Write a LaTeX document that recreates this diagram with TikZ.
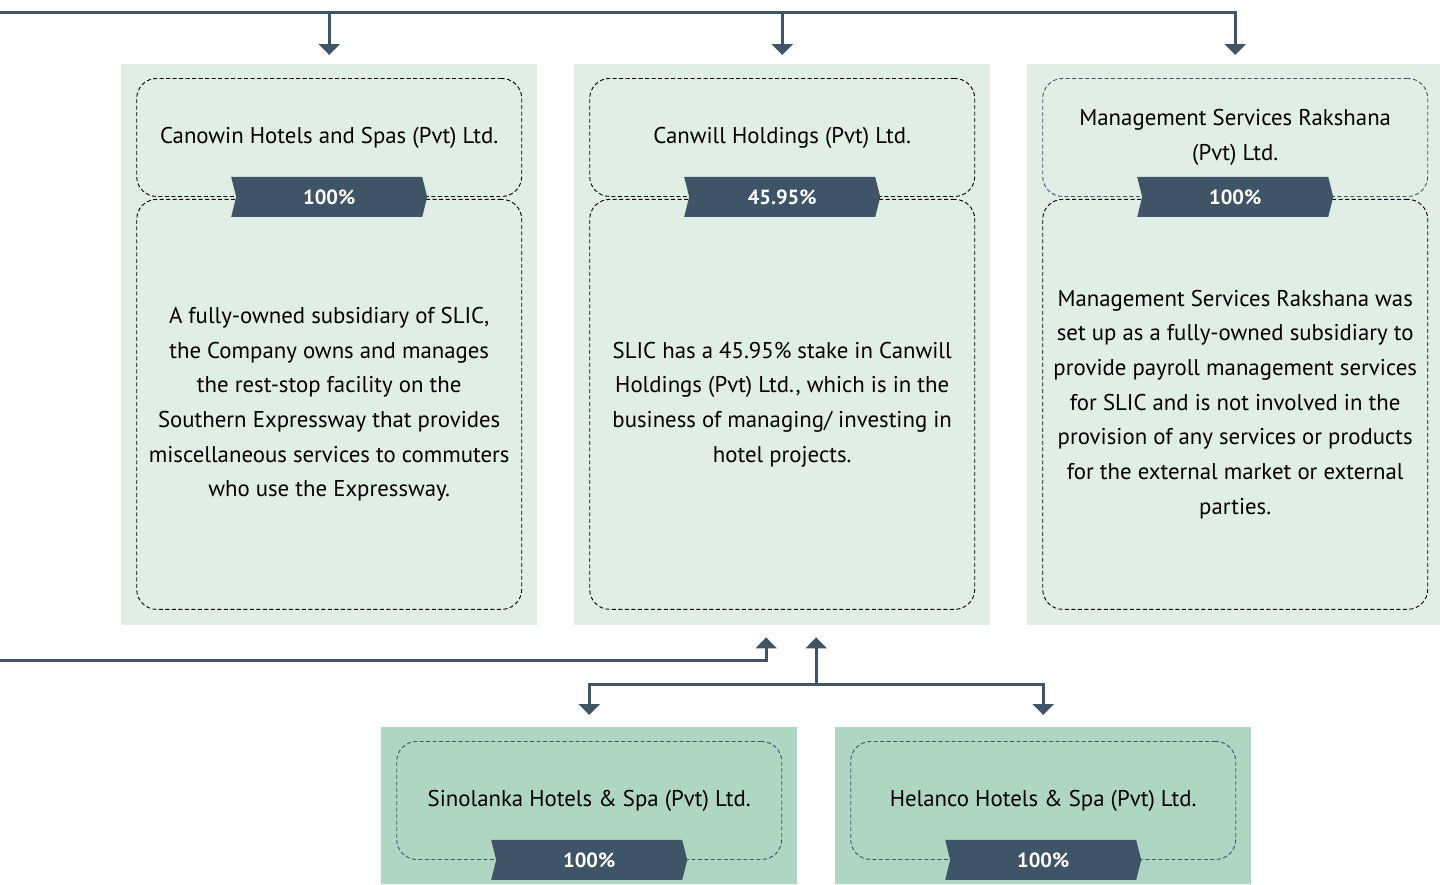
\documentclass[tikz,border=0pt]{standalone}
\usepackage{fontspec}
\setmainfont{PT Sans}
\usepackage{tikz}
\usetikzlibrary{arrows.meta,positioning,shapes.symbols}
\definecolor{slate}{HTML}{3F5466}
\definecolor{paleteal}{HTML}{E0EEE5}
\definecolor{midteal}{HTML}{AED6C3}

\begin{document}
\begin{tikzpicture}[x=1pt, y=-1pt,
  font=\fontsize{22.8}{34.7}\selectfont,
  panel/.style    = {rectangle, inner sep=0, minimum width=416pt,
                     anchor=north west},
  toppanel/.style = {panel, fill=paleteal, minimum height=561pt},
  lowpanel/.style = {panel, fill=midteal, minimum height=157pt},
  dbox/.style     = {rectangle, draw, dash pattern=on 4pt off 2.5pt,
                     line width=0.9pt, rounded corners=20pt,
                     minimum width=385pt, align=center, inner sep=0},
  softbox/.style  = {dbox, draw=slate},
  ribbon/.style   = {shape=signal, signal to=east, signal from=west,
                     signal pointer angle=152, fill=slate, text=white,
                     font=\fontsize{20.5}{24}\selectfont\bfseries,
                     minimum width=196pt, minimum height=40pt, inner sep=0},
  link/.style     = {draw=slate, line width=3pt},
  arr/.style      = {link, -{Triangle[width=21pt,length=11pt]}}
]
\useasboundingbox[fill=white] (0,0) rectangle (1440,884);

% , - Top row panels , -
\node[toppanel] (p1) at (121,64) {};
\node[toppanel] (p2) at (574,64) {};
\node[toppanel] (p3) at (1027,64) {};

\node[dbox, minimum height=118pt, below=14pt of p1.north] (t1)
     {Canowin Hotels and Spas (Pvt) Ltd.};
\node[dbox, minimum height=410pt, below=2pt of t1] (b1)
     {A fully-owned subsidiary of SLIC,\\ the Company owns and manages\\
      the rest-stop facility on the\\ Southern Expressway that provides\\
      miscellaneous services to commuters\\ who use the Expressway.};
\node[ribbon] (r1) at (t1.south) {100\%};

\node[dbox, minimum height=118pt, below=14pt of p2.north] (t2)
     {Canwill Holdings (Pvt) Ltd.};
\node[dbox, minimum height=410pt, below=2pt of t2] (b2)
     {SLIC has a 45.95\% stake in Canwill\\ Holdings (Pvt) Ltd., which is in the\\
      business of managing/ investing in\\ hotel projects.};
\node[ribbon] (r2) at (t2.south) {45.95\%};

\node[softbox, minimum height=118pt, below=14pt of p3.north] (t3)
     {Management Services Rakshana\\ (Pvt) Ltd.};
\node[dbox, minimum height=410pt, below=2pt of t3] (b3)
     {Management Services Rakshana was\\ set up as a fully-owned subsidiary to\\
      provide payroll management services\\ for SLIC and is not involved in the\\
      provision of any services or products\\ for the external market or external\\
      parties.};
\node[ribbon] (r3) at (t3.south) {100\%};

% , - Bottom row panels , -
\node[lowpanel] (q1) at (381,727) {};
\node[lowpanel] (q2) at (835,727) {};

\node[softbox, minimum height=118pt, below=14pt of q1.north] (s1)
     {Sinolanka Hotels \& Spa (Pvt) Ltd.};
\node[ribbon] (r4) at (s1.south) {100\%};

\node[softbox, minimum height=118pt, below=14pt of q2.north] (s2)
     {Helanco Hotels \& Spa (Pvt) Ltd.};
\node[ribbon] (r5) at (s2.south) {100\%};

% , - Connectors , -
\coordinate (busL)  at (0,12);
\coordinate (feedL) at (0,660);
\coordinate (hub)   at ([xshift=34pt,yshift=-59pt]p2.south);

\draw[arr] (busL) -| ([yshift=9pt]p3.north);
\draw[arr] (p1.north |- busL) -- ([yshift=9pt]p1.north);
\draw[arr] (p2.north |- busL) -- ([yshift=9pt]p2.north);

\draw[arr] (feedL) -| ([xshift=-16pt,yshift=-12pt]p2.south);
\draw[arr] (hub) -- ([xshift=34pt,yshift=-12pt]p2.south);
\draw[arr] (hub) -| ([yshift=12pt]q1.north);
\draw[arr] (hub) -| ([yshift=12pt]q2.north);

\end{tikzpicture}
\end{document}
